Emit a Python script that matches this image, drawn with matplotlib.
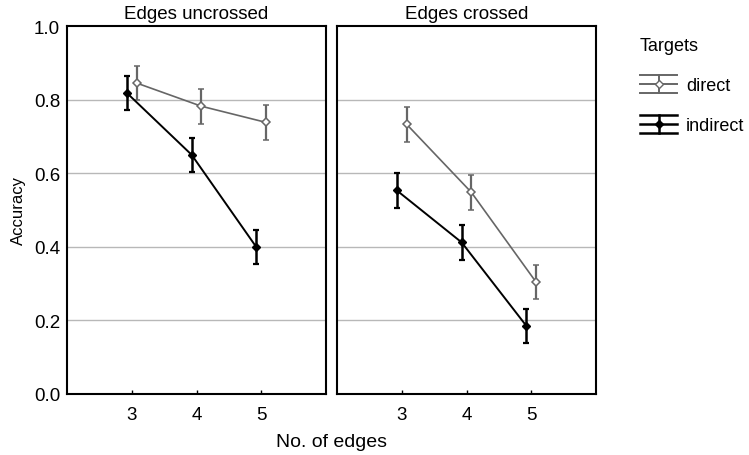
import matplotlib
matplotlib.use('Agg')
import matplotlib.pyplot as plt
from matplotlib.lines import Line2D
from matplotlib.legend_handler import HandlerBase

plt.rcParams['font.family'] = ['Liberation Sans', 'DejaVu Sans']

# data
edges = [3, 4, 5]
panels = ['Edges uncrossed', 'Edges crossed']
direct_mean = [[0.845, 0.782, 0.738], [0.733, 0.548, 0.304]]
direct_err = [[0.047, 0.047, 0.047], [0.047, 0.047, 0.047]]
indirect_mean = [[0.818, 0.650, 0.399], [0.553, 0.412, 0.185]]
indirect_err = [[0.047, 0.047, 0.047], [0.047, 0.047, 0.047]]


class ErrHandler(HandlerBase):
    # legend key: horizontal line, caps as wide as the key, marker in the middle
    def create_artists(self, legend, orig, xdescent, ydescent, width, height, fontsize, trans):
        c = orig.get_color()
        lw = orig.get_linewidth()
        x0, x1 = -xdescent, -xdescent + width
        y0, y1 = -ydescent, -ydescent + height
        ym = (y0 + y1) / 2
        xm = (x0 + x1) / 2
        arts = []
        for y in (y0, ym, y1):
            arts.append(Line2D([x0, x1], [y, y], color=c, lw=lw))
        arts.append(Line2D([xm, xm], [y0, y1], color=c, lw=lw))
        arts.append(Line2D([xm], [ym], marker='D', ms=4, mfc=orig.get_markerfacecolor(),
                           mec=c, mew=1, ls='none'))
        for a in arts:
            a.set_transform(trans)
        return arts


fig = plt.figure(figsize=(7.49, 4.56), dpi=100)
ax1 = fig.add_axes([67/749, 1-395/456, 259/749, 368/456])
ax2 = fig.add_axes([337/749, 1-395/456, 259/749, 368/456], sharey=ax1)

off = 0.075
for i, ax in enumerate([ax1, ax2]):
    for y in [0.2, 0.4, 0.6, 0.8]:
        ax.axhline(y, color='#b8b8b8', lw=1, zorder=0)
    ax.errorbar([e + off for e in edges], direct_mean[i], yerr=direct_err[i],
                color='#666666', lw=1.2, elinewidth=1.6, capsize=2.5, capthick=1.4,
                marker='D', ms=4.5, mfc='white', mec='#666666', mew=1.1)
    ax.errorbar([e - off for e in edges], indirect_mean[i], yerr=indirect_err[i],
                color='black', lw=1.4, elinewidth=1.8, capsize=2.5, capthick=1.6,
                marker='D', ms=4.5, mfc='black', mec='black')
    ax.set_xlim(2, 6)
    ax.set_ylim(0, 1)
    ax.set_xticks(edges)
    ax.tick_params(axis='x', direction='in', length=3, width=1, labelsize=13.5, pad=9)
    ax.tick_params(axis='y', length=0, labelsize=13.5, pad=5)
    for s in ax.spines.values():
        s.set_linewidth(1.5)
    ax.set_title(panels[i], fontsize=13.5, pad=6)

ax1.set_yticks([0, 0.2, 0.4, 0.6, 0.8, 1.0])
ax1.set_yticklabels(['0.0', '0.2', '0.4', '0.6', '0.8', '1.0'])
plt.setp(ax2.get_yticklabels(), visible=False)
ax1.set_ylabel('Accuracy', fontsize=12, labelpad=6)
fig.text(332/749, 1-443/456, 'No. of edges', ha='center', va='center', fontsize=14)

h_direct = Line2D([], [], color='#666666', lw=1.4, mfc='white')
h_indirect = Line2D([], [], color='black', lw=1.8, mfc='black')
leg = fig.legend([h_direct, h_indirect], ['direct', 'indirect'], title='Targets',
                 loc='upper left', bbox_to_anchor=(640/749, 1-38/456), frameon=False,
                 fontsize=13, title_fontsize=13, handlelength=2.05, handleheight=1.2,
                 handletextpad=0.5, labelspacing=1.15, borderpad=0, borderaxespad=0,
                 handler_map={Line2D: ErrHandler()})
leg._legend_box.align = 'left'

fig.savefig('out.png', dpi=100)
